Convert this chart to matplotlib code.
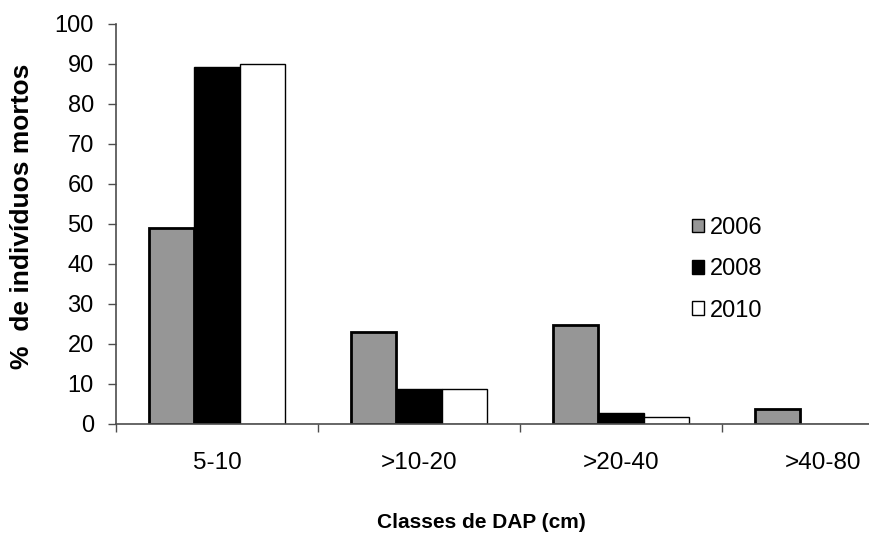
import numpy as np
import matplotlib
matplotlib.use("Agg")
import matplotlib.pyplot as plt

# Classes de DAP e % de individuos mortos por ano
classes = ["5-10", ">10-20", ">20-40", ">40-80"]
anos = ["2006", "2008", "2010"]
v2006 = [49, 23, 24.7, 3.8]
v2008 = [89.2, 8.7, 2.7, 0]
v2010 = [90, 8.7, 1.7, 0]

plt.rcParams['font.family'] = ['Liberation Sans', 'DejaVu Sans']

fig = plt.figure(figsize=(8.7, 5.4), dpi=100)
ax = fig.add_axes([116/870, 1 - 424/540, 1 - 116/870, 400/540])

x = np.arange(len(classes))
w = 0.224
ax.bar(x - w, v2006, w, color="#969696", edgecolor="black", linewidth=2, label=anos[0])
ax.bar(x, v2008, w, color="black", edgecolor="black", linewidth=1, label=anos[1])
ax.bar(x + w, v2010, w, color="white", edgecolor="black", linewidth=1, label=anos[2])

ax.set_ylim(0, 100)
ax.set_xlim(-0.5, -0.5 + (870 - 116) / 202)
ax.set_yticks(range(0, 101, 10))
ax.tick_params(axis="y", labelsize=17, length=6, width=1, color="#4d4d4d", pad=10)

ax.set_xticks(x)
ax.set_xticklabels(classes)
ax.set_xticks(np.arange(-0.5, 3, 1), minor=True)
ax.tick_params(axis="x", which="major", length=0, labelsize=17.5, pad=20)
ax.tick_params(axis="x", which="minor", length=6, width=1, color="#4d4d4d")

for s in ["top", "right"]:
    ax.spines[s].set_visible(False)
for s in ["left", "bottom"]:
    ax.spines[s].set_color("#4d4d4d")
    ax.spines[s].set_linewidth(1.2)

fig.text(22/870, 1 - 216/540, "%  de indivíduos mortos", fontsize=19, fontweight="bold",
         rotation=90, ha="center", va="center")
fig.text(481/870, 1 - 523/540, "Classes de DAP (cm)", fontsize=15, fontweight="bold",
         ha="center", va="center")

leg = ax.legend(frameon=False, fontsize=17, loc="upper left",
                bbox_to_anchor=(680/870, 1 - 205/540), bbox_transform=fig.transFigure,
                handlelength=0.5, handleheight=0.5, handletextpad=0.25, labelspacing=0.82,
                borderpad=0)
for h in leg.legend_handles:
    h.set_linewidth(1)

fig.savefig("out.png", dpi=100)
